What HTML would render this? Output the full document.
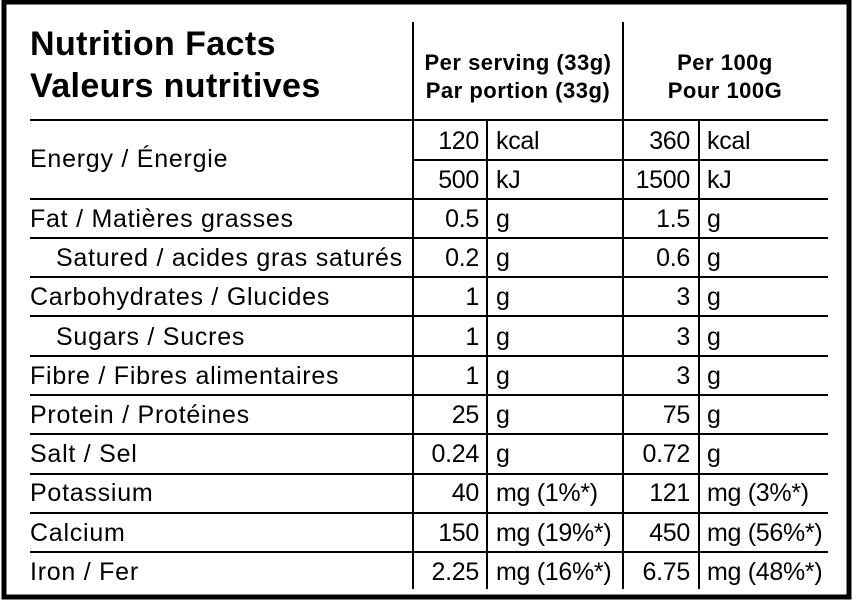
<!DOCTYPE html>
<html><head><meta charset="utf-8"><style>
html,body{margin:0;padding:0;background:#fff;}
svg{display:block;}
text{font-family:"Liberation Sans",Arial,sans-serif;fill:#000;}
</style></head><body>
<svg width="856" height="603" viewBox="0 0 856 603" xmlns="http://www.w3.org/2000/svg">
<rect x="4" y="2" width="845" height="595" fill="none" stroke="#000" stroke-width="5"/>
<g stroke="#000" stroke-width="2">
<line x1="413" y1="22" x2="413" y2="589"/>
<line x1="623" y1="22" x2="623" y2="589"/>
<line x1="487" y1="120" x2="487" y2="589"/>
<line x1="699" y1="120" x2="699" y2="589"/>
<line x1="30" y1="120" x2="828" y2="120"/>
<line x1="413" y1="160" x2="828" y2="160"/>
<line x1="30" y1="199" x2="828" y2="199"/>
<line x1="30" y1="238" x2="828" y2="238"/>
<line x1="30" y1="277" x2="828" y2="277"/>
<line x1="30" y1="316" x2="828" y2="316"/>
<line x1="30" y1="356" x2="828" y2="356"/>
<line x1="30" y1="395" x2="828" y2="395"/>
<line x1="30" y1="434" x2="828" y2="434"/>
<line x1="30" y1="474" x2="828" y2="474"/>
<line x1="30" y1="513" x2="828" y2="513"/>
<line x1="30" y1="552" x2="828" y2="552"/>
</g>
<text x="30" y="55" font-size="34" font-weight="bold" letter-spacing="0.4">Nutrition Facts</text>
<text x="30" y="97" font-size="34" font-weight="bold" letter-spacing="0.4">Valeurs nutritives</text>
<g font-size="22" font-weight="bold" text-anchor="middle" letter-spacing="0.5">
<text x="518" y="70">Per serving (33g)</text>
<text x="518" y="98">Par portion (33g)</text>
<text x="725" y="70">Per 100g</text>
<text x="725" y="98">Pour 100G</text>
</g>
<g font-size="25" letter-spacing="0.75">
<text x="30" y="167">Energy / Énergie</text>
<text x="30" y="227">Fat / Matières grasses</text>
<text x="56" y="266">Satured / acides gras saturés</text>
<text x="30" y="305">Carbohydrates / Glucides</text>
<text x="56" y="345">Sugars / Sucres</text>
<text x="30" y="384">Fibre / Fibres alimentaires</text>
<text x="30" y="423">Protein / Protéines</text>
<text x="30" y="462">Salt / Sel</text>
<text x="30" y="501">Potassium</text>
<text x="30" y="541">Calcium</text>
<text x="30" y="580">Iron / Fer</text>
</g>
<g font-size="25" text-anchor="end" letter-spacing="-0.3">
<text x="479" y="149">120</text><text x="690" y="149">360</text>
<text x="479" y="188">500</text><text x="690" y="188">1500</text>
<text x="479" y="227">0.5</text><text x="690" y="227">1.5</text>
<text x="479" y="266">0.2</text><text x="690" y="266">0.6</text>
<text x="479" y="305">1</text><text x="690" y="305">3</text>
<text x="479" y="345">1</text><text x="690" y="345">3</text>
<text x="479" y="384">1</text><text x="690" y="384">3</text>
<text x="479" y="423">25</text><text x="690" y="423">75</text>
<text x="479" y="462">0.24</text><text x="690" y="462">0.72</text>
<text x="479" y="501">40</text><text x="690" y="501">121</text>
<text x="479" y="541">150</text><text x="690" y="541">450</text>
<text x="479" y="580">2.25</text><text x="690" y="580">6.75</text>
</g>
<g font-size="25" letter-spacing="-0.3">
<text x="496" y="149">kcal</text><text x="707" y="149">kcal</text>
<text x="496" y="188">kJ</text><text x="707" y="188">kJ</text>
<text x="496" y="227">g</text><text x="707" y="227">g</text>
<text x="496" y="266">g</text><text x="707" y="266">g</text>
<text x="496" y="305">g</text><text x="707" y="305">g</text>
<text x="496" y="345">g</text><text x="707" y="345">g</text>
<text x="496" y="384">g</text><text x="707" y="384">g</text>
<text x="496" y="423">g</text><text x="707" y="423">g</text>
<text x="496" y="462">g</text><text x="707" y="462">g</text>
<text x="496" y="501">mg (1%*)</text><text x="707" y="501">mg (3%*)</text>
<text x="496" y="541">mg (19%*)</text><text x="707" y="541">mg (56%*)</text>
<text x="496" y="580">mg (16%*)</text><text x="707" y="580">mg (48%*)</text>
</g>
</svg>
</body></html>
